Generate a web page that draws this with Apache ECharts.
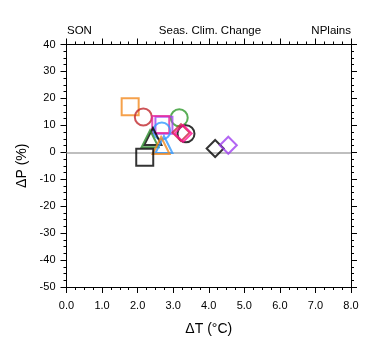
<!DOCTYPE html>
<html>
<head>
<meta charset="utf-8">
<script src="https://cdn.jsdelivr.net/npm/echarts@6/dist/echarts.min.js"></script>
<style>html,body{margin:0;padding:0;background:#fff;}#c{width:380px;height:355px;}</style>
</head>
<body>
<div id="c"></div>
<script>
// Data
var modelNames = ['m1','m2','m3','m4','m5','m6','m7','m8','m9','m10','m11','m12','m13','m14','m15','m16'];
var dT = [1.79, 2.16, 3.17, 2.74, 2.65, 2.68, 3.36, 3.22, 3.28, 2.43, 2.35, 2.74, 2.66, 2.20, 4.18, 4.55];
var dP = [16.9, 13.1, 12.8, 10.0, 10.3, 7.9, 6.9, 7.3, 7.0, 5.9, 5.0, 2.9, 2.5, -1.8, 1.4, 2.6];
var xTicks = ['0.0','1.0','2.0','3.0','4.0','5.0','6.0','7.0','8.0'];
var yTicks = [40,30,20,10,0,-10,-20,-30,-40,-50];

// Styles
var symbols = ['rect','circle','circle','rect','rect','circle','circle','diamond','diamond','triangle','triangle','triangle','triangle','rect','diamond','diamond'];
var colors = ['#f28a1e','#c0282d','#2f9a2c','#a040f0','#e6259a','#3399ff','#000000','#d02040','#ff1493','#000000','#2b8a2b','#3399ff','#f28a1e','#000000','#000000','#a040f0'];

var font = 'Liberation Sans, Arial, Helvetica, sans-serif';
var series = modelNames.map(function(n,i){
  return {
    type:'scatter', name:n, symbol:symbols[i], symbolSize:17,
    itemStyle:{color:'rgba(0,0,0,0)', borderColor:colors[i], borderWidth:2},
    data:[[dT[i], dP[i]]], z:3+i, silent:true
  };
});
series.unshift({
  type:'line', data:[], silent:true,
  markLine:{symbol:'none', silent:true, label:{show:false},
    lineStyle:{color:'#aaaaaa', width:1.6, type:'solid'},
    data:[{yAxis:0}]}
});

function xAx(pos, showLabel){
  return {type:'value', position:pos, min:0, max:8, interval:1, gridIndex:0,
    axisLine:{show:true, onZero:false, lineStyle:{color:'#000', width:1}},
    axisTick:{show:true, length:6, lineStyle:{color:'#000'}},
    minorTick:{show:true, splitNumber:4, length:3, lineStyle:{color:'#000'}},
    splitLine:{show:false},
    axisLabel:{show:showLabel, color:'#000', fontFamily:font, fontSize:11, margin:13,
      formatter:function(v){ return xTicks[Math.round(v)]; }},
    name: showLabel ? '\u0394T (\u00B0C)' : '', nameLocation:'middle', nameGap:35,
    nameTextStyle:{color:'#000', fontFamily:font, fontSize:14}
  };
}
function yAx(pos, showLabel){
  return {type:'value', position:pos, min:-50, max:40, interval:10, gridIndex:0,
    axisLine:{show:true, onZero:false, lineStyle:{color:'#000', width:1}},
    axisTick:{show:true, length:6, lineStyle:{color:'#000'}},
    minorTick:{show:true, splitNumber:4, length:3, lineStyle:{color:'#000'}},
    splitLine:{show:false},
    axisLabel:{show:showLabel, color:'#000', fontFamily:font, fontSize:11, margin:11,
      formatter:function(v){ return yTicks.indexOf(v) >= 0 ? String(v) : ''; }},
    name: showLabel ? '\u0394P (%)' : '', nameLocation:'middle', nameGap:36,
    nameTextStyle:{color:'#000', fontFamily:font, fontSize:14}
  };
}

var chart = echarts.init(document.getElementById('c'), null, {renderer:'canvas'});
chart.setOption({
  animation:false,
  backgroundColor:'#fff',
  grid:{left:66.5, right:29, top:44.5, bottom:68, containLabel:false},
  xAxis:[xAx('bottom', true), xAx('top', false)],
  yAxis:[yAx('left', true), yAx('right', false)],
  title:[
    {text:'SON', left:67, top:25, padding:0, textStyle:{fontFamily:font, fontSize:11.5, fontWeight:'normal', color:'#000'}},
    {text:'Seas. Clim. Change', left:210, top:25, padding:0, textAlign:'center', textStyle:{fontFamily:font, fontSize:11.5, fontWeight:'normal', color:'#000'}},
    {text:'NPlains', right:29, top:25, padding:0, textStyle:{fontFamily:font, fontSize:11.5, fontWeight:'normal', color:'#000'}}
  ],
  series:series
});
</script>
</body>
</html>
